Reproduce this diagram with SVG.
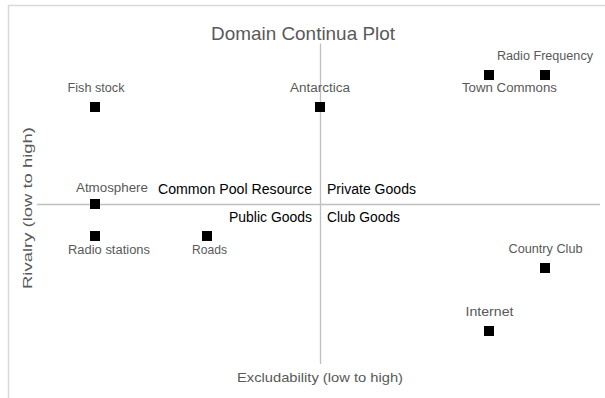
<svg xmlns="http://www.w3.org/2000/svg" width="605" height="398" viewBox="0 0 605 398">
  <style>
    .frame { fill: none; stroke: #d9d9d9; stroke-width: 1.5; }
    .axis { stroke: #bfbfbf; stroke-width: 1.3; }
    .pt { fill: #000; }
    .lbl { font-family: "Liberation Sans", Arial, sans-serif; font-size: 12.5px; fill: #595959; text-anchor: middle; }
    .quad { font-family: "Liberation Sans", Arial, sans-serif; font-size: 14px; fill: #000; }
    .title { font-family: "Liberation Sans", Arial, sans-serif; font-size: 19px; fill: #595959; text-anchor: middle; }
    .axlbl { font-family: "Liberation Sans", Arial, sans-serif; font-size: 13.5px; fill: #595959; text-anchor: middle; }
  </style>
  <rect x="0" y="0" width="605" height="398" fill="#fff"/>
  <!-- chart area border -->
  <path class="frame" d="M8.5 398 V5.5 H605"/>
  <text class="title" x="303" y="40" textLength="184" lengthAdjust="spacingAndGlyphs">Domain Continua Plot</text>

  <!-- quadrant axes -->
  <g id="axes">
    <line class="axis" x1="320.5" y1="43.5" x2="320.5" y2="364"/>
    <line class="axis" x1="37" y1="204.5" x2="600" y2="204.5"/>
  </g>

  <text class="axlbl" x="320" y="382" textLength="166" lengthAdjust="spacingAndGlyphs">Excludability (low to high)</text>
  <text class="axlbl" transform="translate(32 208) rotate(-90)" x="0" y="0" textLength="162" lengthAdjust="spacingAndGlyphs">Rivalry (low to high)</text>

  <!-- quadrant names -->
  <g id="quadrants">
    <text class="quad" x="312" y="194" text-anchor="end" textLength="154" lengthAdjust="spacingAndGlyphs">Common Pool Resource</text>
    <text class="quad" x="327" y="194" textLength="89" lengthAdjust="spacingAndGlyphs">Private Goods</text>
    <text class="quad" x="312" y="222" text-anchor="end" textLength="83" lengthAdjust="spacingAndGlyphs">Public Goods</text>
    <text class="quad" x="327" y="222" textLength="73" lengthAdjust="spacingAndGlyphs">Club Goods</text>
  </g>

  <!-- data points -->
  <g id="fish-stock">
    <rect class="pt" x="90" y="102" width="10" height="10"/>
    <text class="lbl" x="96" y="92" textLength="57" lengthAdjust="spacingAndGlyphs">Fish stock</text>
  </g>
  <g id="antarctica">
    <rect class="pt" x="315" y="102" width="10" height="10"/>
    <text class="lbl" x="320" y="92" textLength="60" lengthAdjust="spacingAndGlyphs">Antarctica</text>
  </g>
  <g id="town-commons">
    <rect class="pt" x="484" y="70" width="10" height="10"/>
    <text class="lbl" x="509.5" y="92" textLength="95" lengthAdjust="spacingAndGlyphs">Town Commons</text>
  </g>
  <g id="radio-frequency">
    <rect class="pt" x="540" y="70" width="10" height="10"/>
    <text class="lbl" x="545" y="60" textLength="96" lengthAdjust="spacingAndGlyphs">Radio Frequency</text>
  </g>
  <g id="atmosphere">
    <rect class="pt" x="90" y="199" width="10" height="10"/>
    <text class="lbl" x="112" y="192" textLength="72" lengthAdjust="spacingAndGlyphs">Atmosphere</text>
  </g>
  <g id="radio-stations">
    <rect class="pt" x="90" y="231" width="10" height="10"/>
    <text class="lbl" x="109" y="254" textLength="82" lengthAdjust="spacingAndGlyphs">Radio stations</text>
  </g>
  <g id="roads">
    <rect class="pt" x="202" y="231" width="10" height="10"/>
    <text class="lbl" x="209.5" y="254" textLength="35" lengthAdjust="spacingAndGlyphs">Roads</text>
  </g>
  <g id="country-club">
    <rect class="pt" x="540" y="263" width="10" height="10"/>
    <text class="lbl" x="545.5" y="253" textLength="74" lengthAdjust="spacingAndGlyphs">Country Club</text>
  </g>
  <g id="internet">
    <rect class="pt" x="484" y="326" width="10" height="10"/>
    <text class="lbl" x="489.5" y="316" textLength="48" lengthAdjust="spacingAndGlyphs">Internet</text>
  </g>
</svg>
